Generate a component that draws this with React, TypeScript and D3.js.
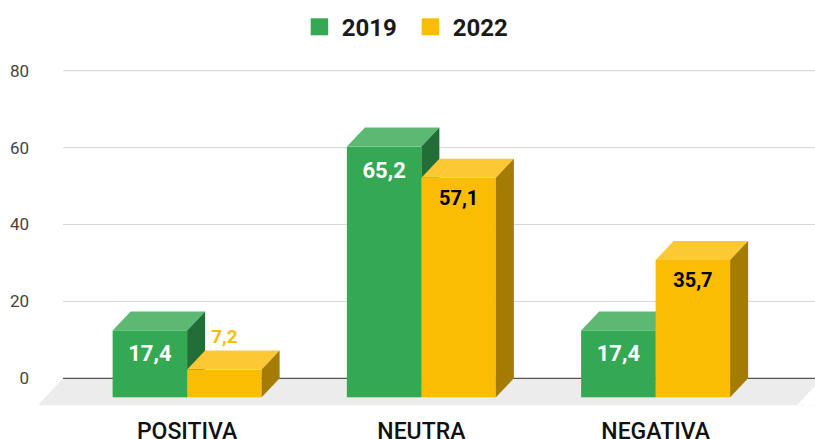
import React from "react";
import * as d3 from "d3";

const categories = ["POSITIVA", "NEUTRA", "NEGATIVA"];
const seriesNames = ["2019", "2022"];
const values2019 = [17.4, 65.2, 17.4];
const values2022 = [7.2, 57.1, 35.7];
const yTicks = [0, 20, 40, 60, 80];

const W = 815;
const H = 439;
const FONT = "Roboto, 'Noto Sans', Arial, sans-serif";

const palette = [
  { front: "#34a853", top: "#5bb974", side: "#226e37", label: "#ffffff" },
  { front: "#fbbc04", top: "#fcc934", side: "#a57c03", label: "#000000" },
];

export default function App() {
  const y = d3.scaleLinear().domain([0, 80]).range([378.3, 70.7]);
  const x0 = d3.scaleBand<string>().domain(categories).range([70, 772.75]).padding(0);
  const groupW = 149;
  const x1 = d3.scaleBand<string>().domain(seriesNames).range([0, groupW]).padding(0);
  const groupStart = (c: string) => (x0(c) as number) + (x0.bandwidth() - groupW) / 2;
  const dx = 18;
  const dy = 19;
  const plotLeft = 63;
  const plotRight = W;
  const data = [values2019, values2022];

  const floorDx = 25;
  const floorDy = 27;
  const y0 = y(0);

  return (
    <svg
      width={W}
      height={H}
      style={{ position: "absolute", left: 0, top: 0, background: "#fff" }}
      fontFamily={FONT}
    >
      {/* legend */}
      {seriesNames.map((s, i) => {
        const lx = i === 0 ? 310.7 : 421.7;
        return (
          <g key={s}>
            <rect x={lx} y={18.3} width={17.5} height={17} fill={palette[i].front} />
            <text x={lx + 31} y={36} fontSize={24} fontWeight={700} fill="#1a1a1a">
              {s}
            </text>
          </g>
        );
      })}

      {/* gridlines */}
      {yTicks.filter((t) => t !== 0).map((t) => (
        <line key={t} x1={plotLeft} x2={plotRight} y1={y(t)} y2={y(t)} stroke="#d6d6d6" strokeWidth={1} />
      ))}
      {yTicks.map((t) => (
        <text key={"l" + t} x={29} y={y(t)} dy="0.35em" textAnchor="end" fontSize={17} fill="#444">
          {t}
        </text>
      ))}

      {/* floor */}
      <polygon
        points={[
          [plotLeft, y0],
          [plotRight + floorDx, y0],
          [plotRight, y0 + floorDy],
          [plotLeft - floorDx, y0 + floorDy],
        ]
          .map((p) => p.join(","))
          .join(" ")}
        fill="#ececec"
      />
      <polygon
        points={[
          [797 + floorDx, y0],
          [797, y0 + floorDy],
          [W, y0 + floorDy],
          [W, y0],
        ]
          .map((p) => p.join(","))
          .join(" ")}
        fill="#ffffff"
      />
      <line x1={plotLeft} x2={plotRight} y1={y0} y2={y0} stroke="#555" strokeWidth={1.2} />

      {/* bars */}
      {categories.map((c, ci) => (
        <g key={c}>
          {seriesNames.map((s, si) => {
            const v = data[si][ci];
            const col = palette[si];
            const x = groupStart(c) + (x1(s) as number);
            const w = x1.bandwidth();
            const yt = y(v) + dy;
            const yb = y(0) + dy;
            const topPts = [
              [x, yt],
              [x + dx, yt - dy],
              [x + w + dx, yt - dy],
              [x + w, yt],
            ];
            const sidePts = [
              [x + w, yt],
              [x + w + dx, yt - dy],
              [x + w + dx, yb - dy],
              [x + w, yb],
            ];
            const label = v.toFixed(1).replace(".", ",");
            const inside = yb - yt > 40;
            return (
              <g key={s}>
                <rect x={x} y={yt} width={w} height={yb - yt} fill={col.front} />
                <polygon points={topPts.map((p) => p.join(",")).join(" ")} fill={col.top} />
                <polygon points={sidePts.map((p) => p.join(",")).join(" ")} fill={col.side} />
                {inside ? (
                  <text
                    x={x + w / 2}
                    y={yt + (si === 0 ? 31 : 27)}
                    textAnchor="middle"
                    fontSize={si === 0 ? 22 : 20}
                    fontWeight={700}
                    fill={col.label}
                  >
                    {label}
                  </text>
                ) : (
                  <text
                    x={x + w / 2}
                    y={yt - dy - 7.5}
                    textAnchor="middle"
                    fontSize={19}
                    fontWeight={700}
                    fill={col.front}
                  >
                    {label}
                  </text>
                )}
              </g>
            );
          })}
          <text
            x={groupStart(c) + groupW / 2}
            y={438.5}
            textAnchor="middle"
            fontSize={23}
            fontWeight={500}
            fill="#111"
          >
            {c}
          </text>
        </g>
      ))}
    </svg>
  );
}
